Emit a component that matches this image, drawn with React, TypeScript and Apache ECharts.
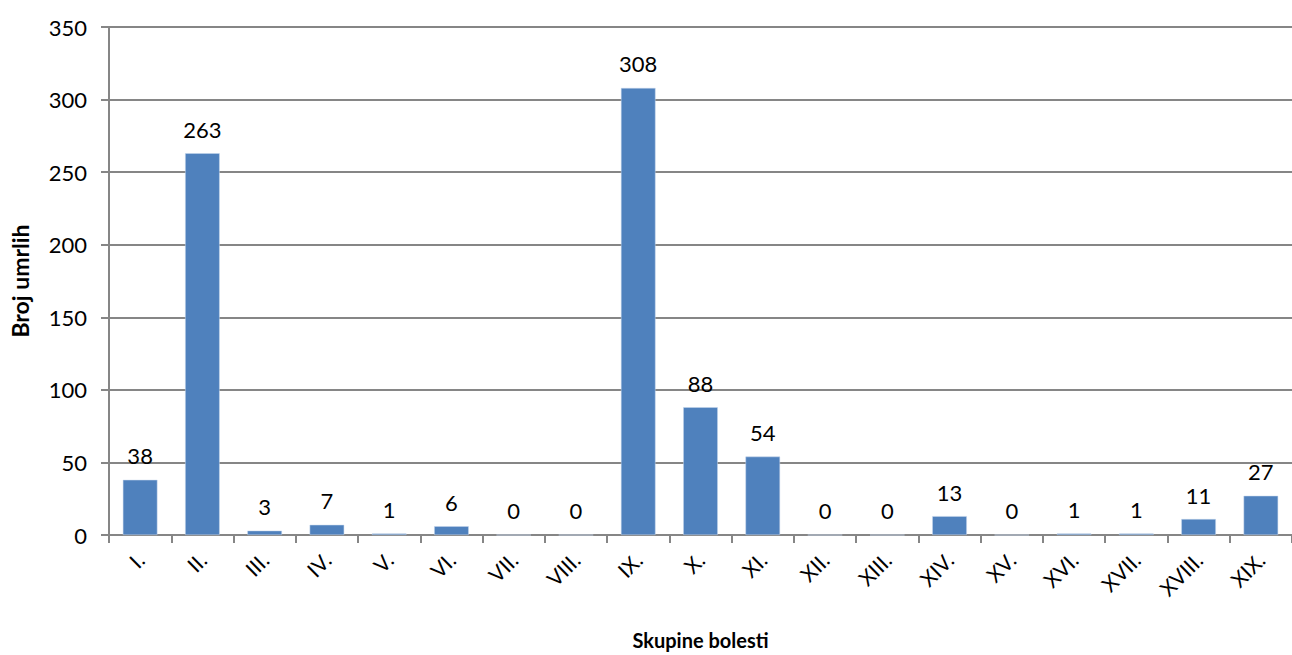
import React, { useEffect, useRef } from "react";
import * as echarts from "echarts";

const categories = ["I.", "II.", "III.", "IV.", "V.", "VI.", "VII.", "VIII.", "IX.", "X.", "XI.", "XII.", "XIII.", "XIV.", "XV.", "XVI.", "XVII.", "XVIII.", "XIX."];
const deaths = [38, 263, 3, 7, 1, 6, 0, 0, 308, 88, 54, 0, 0, 13, 0, 1, 1, 11, 27];
const yTicks = { min: 0, max: 350, interval: 50 };
const xName = "Skupine bolesti";
const yName = "Broj umrlih";

const FONT = "Lato, 'Open Sans', sans-serif";

export default function App() {
  const ref = useRef<HTMLDivElement>(null);
  useEffect(() => {
    if (!ref.current) return;
    const chart = echarts.init(ref.current, undefined, { renderer: "svg" });
    chart.setOption({
      animation: false,
      backgroundColor: "#ffffff",
      textStyle: { fontFamily: FONT },
      grid: { left: 103, right: -6, top: 27, bottom: 104, containLabel: false },
      xAxis: {
        type: "category",
        data: categories,
        name: xName,
        nameLocation: "middle",
        nameGap: 95,
        nameTextStyle: { fontFamily: FONT, fontSize: 20, fontWeight: "bold", color: "#000" },
        axisLine: { lineStyle: { color: "#868686", width: 2 } },
        axisTick: { show: true, length: 8, alignWithLabel: false, lineStyle: { color: "#868686", width: 2 } },
        axisLabel: { rotate: 45, fontSize: 21, color: "#000", margin: 21, fontFamily: FONT, interval: 0 },
        splitLine: { show: false },
      },
      yAxis: {
        type: "value",
        min: yTicks.min,
        max: yTicks.max,
        interval: yTicks.interval,
        name: yName,
        nameLocation: "middle",
        nameGap: 78,
        nameRotate: 90,
        nameTextStyle: { fontFamily: FONT, fontSize: 23, fontWeight: "bold", color: "#000" },
        axisLine: { show: true, lineStyle: { color: "#868686", width: 2 } },
        axisTick: { show: true, length: 8, lineStyle: { color: "#868686", width: 2 } },
        axisLabel: { fontSize: 22, color: "#000", margin: 22, fontFamily: FONT },
        splitLine: { show: true, lineStyle: { color: "#868686", width: 2 } },
      },
      series: [
        {
          type: "bar",
          data: deaths,
          barWidth: "55.5%",
          itemStyle: { color: "#4F81BD", borderColor: "#c6d6ec", borderWidth: 0.5 },
          label: {
            show: true,
            position: "top",
            distance: 13,
            fontSize: 22,
            color: "#000",
            fontFamily: FONT,
          },
        },
      ],
    });
    return () => chart.dispose();
  }, []);
  return (
    <div
      ref={ref}
      style={{ position: "absolute", left: 0, top: 0, width: 1292, height: 655 }}
    />
  );
}
